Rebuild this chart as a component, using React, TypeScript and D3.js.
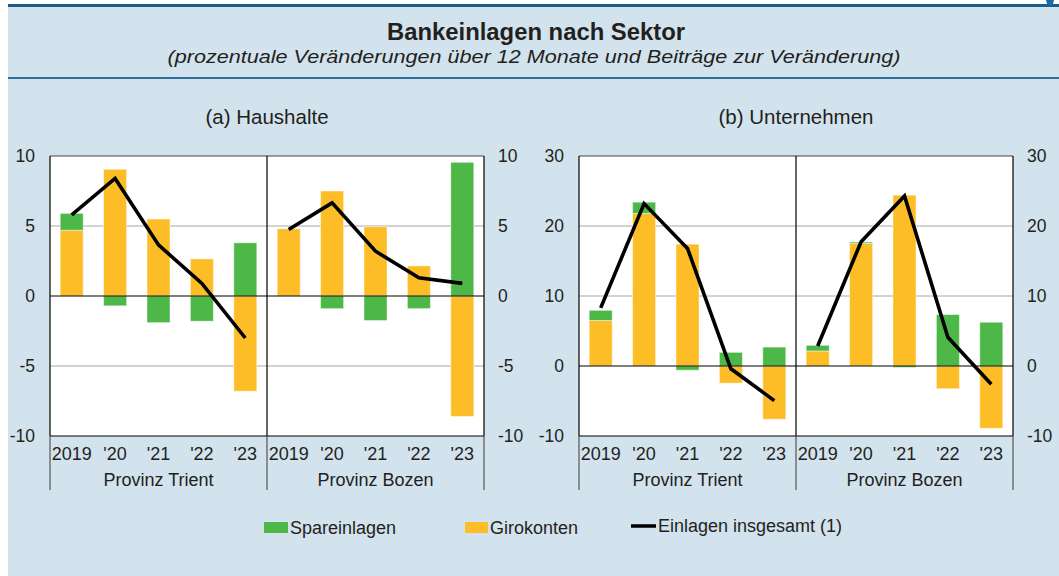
import React from "react";
import * as d3 from "d3";

const years = ["2019", "'20", "'21", "'22", "'23"];
const provinces = ["Provinz Trient", "Provinz Bozen"];

// (a) Haushalte
const hhTrientGiro = [4.7, 9.05, 5.5, 2.65, -6.8];
const hhTrientSpar = [1.2, -0.7, -1.9, -1.8, 3.8];
const hhTrientTotal = [5.8, 8.4, 3.65, 0.9, -3.0];
const hhBozenGiro = [4.8, 7.5, 4.95, 2.15, -8.6];
const hhBozenSpar = [0, -0.9, -1.75, -0.9, 9.55];
const hhBozenTotal = [4.75, 6.65, 3.2, 1.3, 0.9];

// (b) Unternehmen
const ftTrientGiro = [6.5, 21.8, 17.4, -2.45, -7.6];
const ftTrientSpar = [1.45, 1.6, -0.6, 1.95, 2.7];
const ftTrientTotal = [8.3, 23.2, 16.8, -0.4, -4.95];
const ftBozenGiro = [2.15, 17.5, 24.4, -3.25, -8.9];
const ftBozenSpar = [0.8, 0.2, -0.2, 7.35, 6.25];
const ftBozenTotal = [2.85, 17.75, 24.3, 4.1, -2.6];

const ticksA = [-10, -5, 0, 5, 10];
const ticksB = [-10, 0, 10, 20, 30];

const GREEN = "#4db848";
const YELLOW = "#fdbd26";
const FONT = "'Liberation Sans', Arial, Helvetica, sans-serif";
const TEXT = "#231f20";

type Group = { giro: number[]; spar: number[]; total: number[] };

type PanelProps = {
  x0: number;
  x1: number;
  domain: [number, number];
  ticks: number[];
  title: string;
  groups: Group[];
};

const TOP = 156;
const BOTTOM = 436;

function Panel({ x0, x1, domain, ticks, title, groups }: PanelProps) {
  const keys: string[] = [];
  provinces.forEach((p) => years.forEach((yr) => keys.push(p + "|" + yr)));
  const x = d3
    .scaleBand<string>()
    .domain(keys)
    .range([x0, x1])
    .paddingInner(0.47)
    .paddingOuter(0.235);
  const y = d3.scaleLinear().domain(domain).range([BOTTOM, TOP]);
  const mid = (x0 + x1) / 2;
  const line = d3
    .line<[number, number]>()
    .x((d) => d[0])
    .y((d) => d[1]);

  const bars: JSX.Element[] = [];
  const lines: JSX.Element[] = [];
  groups.forEach((g, gi) => {
    const pts: [number, number][] = [];
    years.forEach((yr, i) => {
      const k = provinces[gi] + "|" + yr;
      const bx = x(k) as number;
      const bw = x.bandwidth();
      let pos = 0;
      let neg = 0;
      const segs: [number, string][] = [
        [g.giro[i], YELLOW],
        [g.spar[i], GREEN],
      ];
      segs.forEach(([v, c], si) => {
        if (v === 0) return;
        let a: number, b: number;
        if (v > 0) {
          a = pos;
          b = pos + v;
          pos = b;
        } else {
          a = neg;
          b = neg + v;
          neg = b;
        }
        const yTop = y(Math.max(a, b));
        const yBot = y(Math.min(a, b));
        bars.push(
          <rect
            key={`b${gi}-${i}-${si}`}
            x={bx}
            y={yTop}
            width={bw}
            height={yBot - yTop}
            fill={c}
            stroke="#ffffff"
            strokeOpacity={0.45}
            strokeWidth={1}
          />
        );
      });
      pts.push([bx + bw / 2, y(g.total[i])]);
    });
    lines.push(
      <path
        key={`l${gi}`}
        d={line(pts) as string}
        fill="none"
        stroke="#000"
        strokeWidth={3.6}
        strokeLinejoin="miter"
      />
    );
  });

  return (
    <g>
      <text
        x={mid}
        y={124}
        textAnchor="middle"
        fontSize={20.5}
        fontFamily={FONT}
        fill={TEXT}
      >
        {title}
      </text>
      <rect x={x0} y={TOP} width={x1 - x0} height={BOTTOM - TOP} fill="#fff" />
      {ticks
        .filter((t) => t !== 0 && t !== domain[0] && t !== domain[1])
        .map((t) => (
          <line
            key={`g${t}`}
            x1={x0}
            x2={x1}
            y1={y(t)}
            y2={y(t)}
            stroke="#a8a8a8"
            strokeWidth={1}
          />
        ))}
      {bars}
      <line x1={x0} x2={x1} y1={y(0)} y2={y(0)} stroke="#000" strokeWidth={1.2} />
      {lines}
      <line x1={x0} x2={x1} y1={TOP} y2={TOP} stroke="#444" strokeWidth={1.2} />
      <line x1={x0} x2={x1} y1={BOTTOM} y2={BOTTOM} stroke="#000" strokeWidth={1.2} />
      <line x1={x0} x2={x0} y1={TOP} y2={BOTTOM} stroke="#000" strokeWidth={1.2} />
      <line x1={mid} x2={mid} y1={TOP} y2={BOTTOM} stroke="#000" strokeWidth={1.2} />
      <line x1={x1} x2={x1} y1={TOP} y2={BOTTOM} stroke="#000" strokeWidth={1.2} />
      {[x0, mid, x1].map((vx, i) => (
        <line
          key={`v${i}`}
          x1={vx}
          x2={vx}
          y1={BOTTOM}
          y2={490}
          stroke="#555"
          strokeWidth={1.2}
        />
      ))}
      {ticks.map((t) => (
        <g key={`t${t}`}>
          <text
            x={x0 - 15}
            y={y(t) + 6}
            textAnchor="end"
            fontSize={17.5}
            fontFamily={FONT}
            fill={TEXT}
          >
            {t}
          </text>
          <text
            x={x1 + 14}
            y={y(t) + 6}
            textAnchor="start"
            fontSize={17.5}
            fontFamily={FONT}
            fill={TEXT}
          >
            {t}
          </text>
        </g>
      ))}
      {keys.map((k) => (
        <text
          key={`c${k}`}
          x={(x(k) as number) + x.bandwidth() / 2}
          y={460}
          textAnchor="middle"
          fontSize={18}
          fontFamily={FONT}
          fill={TEXT}
        >
          {k.split("|")[1]}
        </text>
      ))}
      {provinces.map((p, i) => (
        <text
          key={`p${p}`}
          x={i === 0 ? (x0 + mid) / 2 : (mid + x1) / 2}
          y={486}
          textAnchor="middle"
          fontSize={18}
          fontFamily={FONT}
          fill={TEXT}
        >
          {p}
        </text>
      ))}
    </g>
  );
}

export default function App() {
  return (
    <svg
      width={1059}
      height={576}
      style={{ position: "absolute", left: 0, top: 0 }}
      xmlns="http://www.w3.org/2000/svg"
    >
      <rect x={0} y={0} width={1059} height={576} fill="#fff" />
      <rect x={8} y={4} width={1051} height={572} fill="#d2e3ed" />
      <rect x={8} y={4} width={1051} height={3} fill="#1d5e8c" />
      <rect x={8} y={77} width={1051} height={2} fill="#2a6f9b" />
      <path
        d="M1046,0 L1054,0 L1053,4 Q1050,7 1047,4 Z"
        fill="#1d6aa8"
      />
      <text
        x={536}
        y={40}
        textAnchor="middle"
        fontSize={23}
        fontWeight="bold"
        fontFamily={FONT}
        fill={TEXT}
        textLength={298}
        lengthAdjust="spacingAndGlyphs"
      >
        Bankeinlagen nach Sektor
      </text>
      <text
        x={534}
        y={63}
        textAnchor="middle"
        fontSize={19}
        fontStyle="italic"
        fontFamily={FONT}
        fill={TEXT}
        textLength={733}
        lengthAdjust="spacingAndGlyphs"
      >
        (prozentuale Veränderungen über 12 Monate und Beiträge zur Veränderung)
      </text>
      <Panel
        x0={50}
        x1={484}
        domain={[-10, 10]}
        ticks={ticksA}
        title="(a) Haushalte"
        groups={[
          { giro: hhTrientGiro, spar: hhTrientSpar, total: hhTrientTotal },
          { giro: hhBozenGiro, spar: hhBozenSpar, total: hhBozenTotal },
        ]}
      />
      <Panel
        x0={579}
        x1={1013}
        domain={[-10, 30]}
        ticks={ticksB}
        title="(b) Unternehmen"
        groups={[
          { giro: ftTrientGiro, spar: ftTrientSpar, total: ftTrientTotal },
          { giro: ftBozenGiro, spar: ftBozenSpar, total: ftBozenTotal },
        ]}
      />
      <g fontFamily={FONT} fontSize={18} fill={TEXT}>
        <rect x={264} y={522} width={24} height={11} fill={GREEN} />
        <text x={290} y={534}>Spareinlagen</text>
        <rect x={465} y={522} width={23} height={11} fill={YELLOW} />
        <text x={490} y={534}>Girokonten</text>
        <line x1={631} x2={656} y1={526} y2={526} stroke="#000" strokeWidth={3.5} />
        <text x={658} y={532}>Einlagen insgesamt (1)</text>
      </g>
    </svg>
  );
}
